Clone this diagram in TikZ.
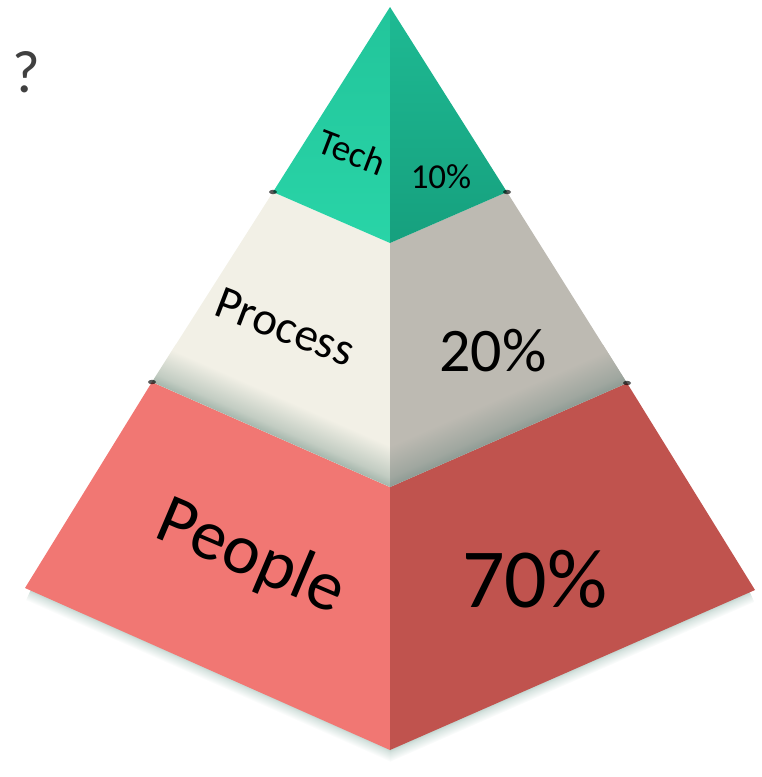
\documentclass[tikz,border=0pt]{standalone}
\usepackage{fontspec}
\setmainfont{Carlito}
\usetikzlibrary{calc}
\definecolor{techL}{HTML}{29D4A7}
\definecolor{techLtop}{HTML}{22C59B}
\definecolor{techR}{HTML}{1EBA93}
\definecolor{techRbot}{HTML}{16A07E}
\definecolor{procL}{HTML}{F2F0E6}
\definecolor{procR}{HTML}{BDBAB2}
\definecolor{peopL}{HTML}{F17773}
\definecolor{peopR}{HTML}{C0534E}
\definecolor{shadeL}{HTML}{A2B4AA}
\definecolor{shadeR}{HTML}{8C9A93}
\definecolor{groundsh}{HTML}{BFD3CD}
\definecolor{qgray}{HTML}{404040}
\pgfdeclareverticalshading{bandL}{100bp}{color(0bp)=(shadeL); color(25bp)=(shadeL); color(36bp)=(shadeL!60!procL); color(68bp)=(procL); color(100bp)=(procL)}
\pgfdeclareverticalshading{bandR}{100bp}{color(0bp)=(shadeR); color(25bp)=(shadeR); color(36bp)=(shadeR!60!procR); color(68bp)=(procR); color(100bp)=(procR)}
\pgfdeclareverticalshading{ground}{100bp}{color(0bp)=(white); color(25bp)=(white); color(60bp)=(groundsh!60!white); color(75bp)=(groundsh); color(100bp)=(groundsh)}
\begin{document}
\begin{tikzpicture}[x=1pt,y=-1pt,
  lbl/.style={inner sep=0pt, text=black},
  corner/.style={fill=black, opacity=0.65}]
\useasboundingbox (0,0) rectangle (762,777);
% key points
\coordinate (apex) at (390,7);
\coordinate (tL) at (273,192);
\coordinate (tR) at (507,192);
\coordinate (tC) at (390,243);
\coordinate (mL) at (152,382);
\coordinate (mR) at (627,383);
\coordinate (mC) at (390,487);
\coordinate (bL) at (25,588);
\coordinate (bR) at (755,590);
\coordinate (bC) at (390,750);
% soft ground shadow
\begin{scope}
  \clip (0,560) rectangle (390,777);
  \begin{scope}[transform canvas={shift={(bL)}, rotate=-23.9}]
    \shade[shading=ground] (6,-1) rectangle (420,11);
  \end{scope}
\end{scope}
\begin{scope}
  \clip (390,560) rectangle (762,777);
  \begin{scope}[transform canvas={shift={(bC)}, rotate=23.7}]
    \shade[shading=ground] (-20,-1) rectangle (393,11);
  \end{scope}
\end{scope}
% bottom tier (People)
\fill[peopL] (mL) -- (mC) -- (bC) -- (bL) -- cycle;
\fill[peopR] (mC) -- (mR) -- (bR) -- (bC) -- cycle;
% middle tier (Process)
\fill[procL] (tL) -- (tC) -- (mC) -- (mL) -- cycle;
\fill[procR] (tC) -- (tR) -- (mR) -- (mC) -- cycle;
\begin{scope}
  \clip (tL) -- (tC) -- (mC) -- (mL) -- cycle;
  \begin{scope}[transform canvas={shift={(mL)}, rotate=-23.8}]
    \shade[shading=bandL] (-30,1) rectangle (290,-44);
  \end{scope}
\end{scope}
\begin{scope}
  \clip (tC) -- (tR) -- (mR) -- (mC) -- cycle;
  \begin{scope}[transform canvas={shift={(mC)}, rotate=23.7}]
    \shade[shading=bandR] (-30,1) rectangle (290,-44);
  \end{scope}
\end{scope}
% top tier (Tech)
\shade[top color=techLtop, bottom color=techL] (apex) -- (tC) -- (tL) -- cycle;
\shade[top color=techR, bottom color=techRbot] (apex) -- (tR) -- (tC) -- cycle;
% dark corner spots
\fill[corner] (tL) ellipse (4 and 2.2);
\fill[corner] (tR) ellipse (4 and 2.2);
\fill[corner] (mL) ellipse (4 and 2.2);
\fill[corner] (mR) ellipse (4 and 2.2);
% texts
\node[lbl, rotate=-21] (tech) at (352,152) {\fontsize{37}{42}\selectfont Tech};
\node[lbl] (techp) at (441,177) {\fontsize{35}{40}\selectfont 10\%};
\node[lbl, rotate=-21] (proc) at (285,327) {\fontsize{47}{52}\selectfont Process};
\node[lbl] (procp) at (493,351) {\fontsize{62}{70}\selectfont 20\%};
\node[lbl, rotate=-23] (peop) at (251,558) {\fontsize{71}{78}\selectfont People};
\node[lbl] (peopp) at (535,579) {\fontsize{84}{92}\selectfont 70\%};
\node[lbl, text=qgray] (q) at (26,72) {\fontsize{60}{66}\selectfont ?};
\end{tikzpicture}
\end{document}
